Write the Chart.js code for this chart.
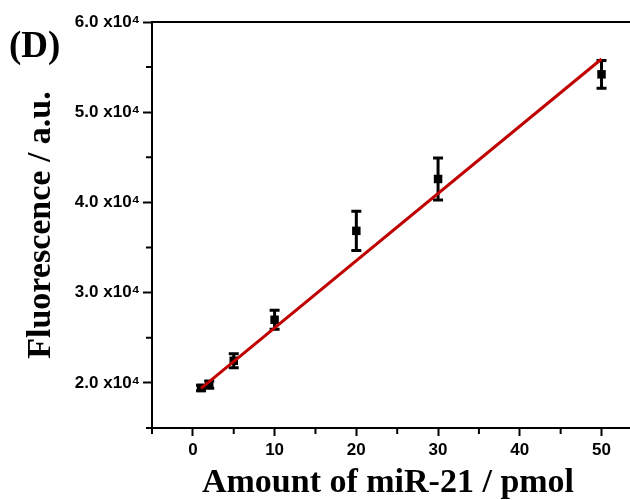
<!DOCTYPE html>
<html>
<head>
<meta charset="utf-8">
<script src="https://cdn.jsdelivr.net/npm/chart.js@4/dist/chart.umd.min.js"></script>
<style>
  body { margin: 0; background: #fff; }
  #wrap { width: 630px; height: 500px; }
</style>
</head>
<body>
<div id="wrap"><canvas id="myChart" width="630" height="500"></canvas></div>
<script>
// valores
const amounts = [1, 2, 5, 10, 20, 30, 50]; // pmol
const fluorescence = [19440, 19800, 22450, 27000, 36850, 42600, 54200];
const errors = [300, 400, 780, 1050, 2170, 2330, 1540];
// recta de ajuste (extremos leidos)
const fitX = [1, 50];
const fitY = [19400, 55900];
const yMajorTicks = [20000, 30000, 40000, 50000, 60000];
const xMajorTicks = [0, 10, 20, 30, 40, 50];

const serif = "'Liberation Serif', 'Times New Roman', serif";
const sans = "'Liberation Sans', Arial, sans-serif";

// barras de error, ticks menores, bordes y etiqueta (D)
const extras = {
  id: "extras",
  beforeDatasetsDraw(chart) {
    const { ctx, scales } = chart;
    const x = scales.x, y = scales.y;
    ctx.save();
    ctx.strokeStyle = "#000";
    ctx.lineWidth = 3;
    amounts.forEach((a, i) => {
      const px = x.getPixelForValue(a);
      const top = y.getPixelForValue(fluorescence[i] + errors[i]);
      const bot = y.getPixelForValue(fluorescence[i] - errors[i]);
      ctx.beginPath();
      ctx.moveTo(px, top); ctx.lineTo(px, bot);
      ctx.moveTo(px - 5, top); ctx.lineTo(px + 5, top);
      ctx.moveTo(px - 5, bot); ctx.lineTo(px + 5, bot);
      ctx.stroke();
    });
    ctx.restore();
  },
  afterDraw(chart) {
    const { ctx, chartArea, scales } = chart;
    ctx.save();
    ctx.strokeStyle = "#000";
    ctx.lineWidth = 2;
    // bordes superior e inferior hasta el borde (figura recortada a la derecha)
    ctx.beginPath();
    ctx.moveTo(chartArea.left - 1, chartArea.top);
    ctx.lineTo(chart.width, chartArea.top);
    ctx.moveTo(chartArea.right - 2, chartArea.bottom);
    ctx.lineTo(chart.width, chartArea.bottom);
    ctx.stroke();
    // ticks menores
    ctx.beginPath();
    scales.y.ticks.forEach((t) => {
      if (!yMajorTicks.includes(t.value)) {
        const py = scales.y.getPixelForValue(t.value);
        ctx.moveTo(chartArea.left, py); ctx.lineTo(chartArea.left - 6, py);
      }
    });
    scales.x.ticks.forEach((t) => {
      if (!xMajorTicks.includes(t.value)) {
        const px = scales.x.getPixelForValue(t.value);
        ctx.moveTo(px, chartArea.bottom); ctx.lineTo(px, chartArea.bottom + 6);
      }
    });
    ctx.stroke();
    // etiqueta del panel
    ctx.fillStyle = "#000";
    ctx.font = "bold 37px " + serif;
    ctx.textBaseline = "alphabetic";
    ctx.fillText("(D)", 9, 57);
    ctx.restore();
  },
};

const ctx = document.getElementById("myChart").getContext("2d");

const config = {
  data: {
    datasets: [
      {
        type: "line",
        label: "Ajuste",
        data: fitX.map((v, i) => ({ x: v, y: fitY[i] })),
        borderColor: "#c00000",
        borderWidth: 3,
        pointRadius: 0,
        order: 0,
      },
      {
        type: "scatter",
        label: "Datos",
        data: amounts.map((v, i) => ({ x: v, y: fluorescence[i] })),
        pointStyle: "rect",
        pointRadius: 6,
        backgroundColor: "#000",
        borderColor: "#000",
        borderWidth: 0,
        order: 1,
      },
    ],
  },
  options: {
    responsive: false,
    animation: false,
    layout: { padding: { top: 22, right: 0, left: 0, bottom: 0 } },
    plugins: {
      legend: { display: false },
      tooltip: { enabled: false },
    },
    scales: {
      x: {
        type: "linear",
        min: -5,
        max: 52.75,
        afterFit: (s) => { s.height = 72; },
        border: { display: true, color: "#000", width: 2 },
        grid: {
          drawOnChartArea: false,
          drawTicks: true,
          tickLength: 8,
          tickWidth: 2,
          tickColor: (c) => (xMajorTicks.includes(c.tick.value) ? "#000" : "rgba(0,0,0,0)"),
        },
        ticks: {
          stepSize: 5,
          includeBounds: false,
          autoSkip: false,
          maxRotation: 0,
          padding: 4,
          color: "#000",
          font: { family: sans, size: 17, weight: "bold" },
          callback: (v) => (xMajorTicks.includes(v) ? String(v) : ""),
        },
        title: {
          display: true,
          text: "Amount of miR-21 / pmol",
          color: "#000",
          font: { family: serif, size: 34, weight: "bold", lineHeight: 1 },
          padding: { top: 0, bottom: 0 },
        },
      },
      y: {
        type: "linear",
        min: 15000,
        max: 60000,
        afterFit: (s) => { s.width = 152; },
        border: { display: true, color: "#000", width: 2 },
        grid: {
          drawOnChartArea: false,
          drawTicks: true,
          tickLength: 9,
          tickWidth: 2,
          tickColor: (c) => (yMajorTicks.includes(c.tick.value) ? "#000" : "rgba(0,0,0,0)"),
        },
        ticks: {
          stepSize: 5000,
          autoSkip: false,
          padding: 3,
          color: "#000",
          font: { family: sans, size: 17, weight: "bold" },
          callback: (v) => (yMajorTicks.includes(v) ? (v / 10000).toFixed(1) + " x10\u2074" : ""),
        },
        title: {
          display: true,
          text: "Fluorescence / a.u.",
          color: "#000",
          font: { family: serif, size: 34, weight: "bold", lineHeight: 1 },
          padding: { top: 24, bottom: 0 },
        },
      },
    },
  },
  plugins: [extras],
};

const myChart = new Chart(ctx, config);
</script>
</body>
</html>
